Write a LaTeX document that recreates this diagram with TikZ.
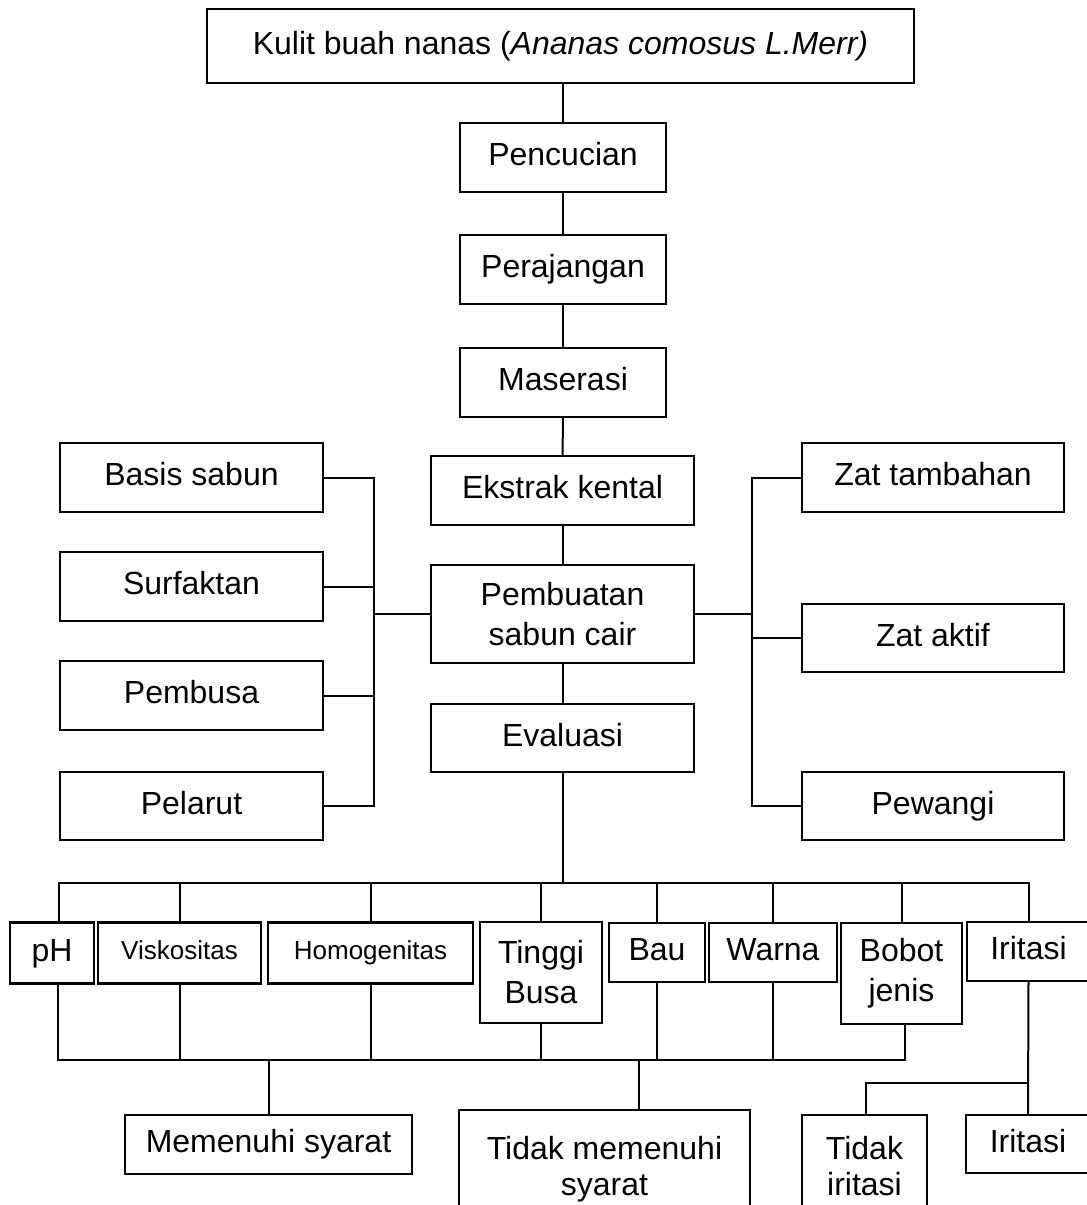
\documentclass[tikz,border=0pt]{standalone}
\usepackage{fontspec}
\setmainfont{Liberation Sans}
\begin{document}
\begin{tikzpicture}[x=1pt,y=-1pt,
  box/.style={draw,line width=2.3pt,inner sep=0pt,align=center,font=\fontsize{32}{40}\selectfont},
  one/.style={text height=23pt,text depth=7pt},
  small/.style={font=\fontsize{26}{32}\selectfont,text height=19pt,text depth=5.5pt},
  conn/.style={line width=2pt}]
\useasboundingbox (0,0) rectangle (1087,1205);
\fill[white] (0,0) rectangle (1087,1205);

% main column
\node[box,one,minimum width=707pt,minimum height=74pt] (top) at (560.5,46) {Kulit buah nanas (\textit{Ananas comosus L.Merr)}};
\node[box,one,minimum width=206pt,minimum height=69pt] (penc) at (563,157.5) {Pencucian};
\node[box,one,minimum width=206pt,minimum height=69pt] (peraj) at (563,269.5) {Perajangan};
\node[box,one,minimum width=206pt,minimum height=69pt] (mas) at (563,382.5) {Maserasi};
\node[box,one,minimum width=263pt,minimum height=69pt] (ekstrak) at (562.5,490.5) {Ekstrak kental};
\node[box,minimum width=263pt,minimum height=98pt] (pemb) at (562.5,614) {Pembuatan\\sabun cair};
\node[box,one,minimum width=263pt,minimum height=68pt] (eval) at (562.5,738) {Evaluasi};

% left ingredients
\node[box,one,minimum width=263pt,minimum height=69pt] (basis) at (191.5,477.5) {Basis sabun};
\node[box,one,minimum width=263pt,minimum height=69pt] (surf) at (191.5,586.5) {Surfaktan};
\node[box,one,minimum width=263pt,minimum height=69pt] (busa) at (191.5,695.5) {Pembusa};
\node[box,one,minimum width=263pt,minimum height=68pt] (larut) at (191.5,806) {Pelarut};

% right ingredients
\node[box,one,minimum width=262pt,minimum height=69pt] (tamb) at (933,477.5) {Zat tambahan};
\node[box,one,minimum width=262pt,minimum height=68pt] (aktif) at (933,638) {Zat aktif};
\node[box,one,minimum width=262pt,minimum height=68pt] (wangi) at (933,806) {Pewangi};

% evaluation tests
\node[box,one,minimum width=84pt,minimum height=61pt] (ph) at (52,953) {pH};
\node[box,small,minimum width=163pt,minimum height=61pt] (visk) at (179.5,953) {Viskositas};
\node[box,small,minimum width=205pt,minimum height=61pt] (homog) at (370.5,953) {Homogenitas};
\node[box,minimum width=122pt,minimum height=101pt] (tinggi) at (541,972.5) {Tinggi\\Busa};
\node[box,one,minimum width=96pt,minimum height=59pt] (bau) at (657,952.5) {Bau};
\node[box,one,minimum width=128pt,minimum height=59pt] (warna) at (773,952.5) {Warna};
\node[box,minimum width=121pt,minimum height=101pt] (bobot) at (901.5,973.5) {Bobot\\jenis};
\node[box,one,minimum width=123pt,minimum height=59pt] (irit) at (1028.5,951.5) {Iritasi};

% results
\node[box,one,minimum width=287pt,minimum height=59pt] (mem) at (268.5,1144.5) {Memenuhi syarat};
\node[box,minimum width=291pt,minimum height=118pt] (tmem) at (604.5,1169) {Tidak memenuhi\\[-4pt]syarat};
\node[box,minimum width=125pt,minimum height=102pt] (tirit) at (864.5,1166) {Tidak\\[-4pt]iritasi};
\node[box,one,minimum width=124pt,minimum height=58pt] (irit2) at (1028,1144) {Iritasi};

% junction coordinates
\coordinate (lv) at (374,0);
\coordinate (rv) at (752,0);
\coordinate (bus1) at (0,883);
\coordinate (bus2) at (0,1060);
\coordinate (ibr) at (0,1083);

% main column connectors
\draw[conn] (top.south -| penc) -- (penc.north);
\draw[conn] (penc) -- (peraj);
\draw[conn] (peraj) -- (mas);
\draw[conn] (mas) -- (ekstrak);
\draw[conn] (ekstrak) -- (pemb);
\draw[conn] (pemb) -- (eval);

% left
\draw[conn] (basis.east) -- (basis.east -| lv) -- (larut.east -| lv) -- (larut.east);
\draw[conn] (surf.east) -- (surf.east -| lv);
\draw[conn] (busa.east) -- (busa.east -| lv);
\draw[conn] (pemb.west) -- (pemb.west -| lv);

% right
\draw[conn] (tamb.west) -- (tamb.west -| rv) -- (wangi.west -| rv) -- (wangi.west);
\draw[conn] (aktif.west) -- (aktif.west -| rv);
\draw[conn] (pemb.east) -- (pemb.east -| rv);

% evaluation bus
\draw[conn] (eval.south) -- (eval.south |- bus1);
\draw[conn] ([xshift=7pt]ph.north) -- ([xshift=7pt]ph.north |- bus1) -- (irit.north |- bus1) -- (irit.north);
\foreach \n in {visk,homog,tinggi,bau,warna,bobot}
  \draw[conn] (\n.north) -- (\n.north |- bus1);

% result bus
\draw[conn] ([xshift=6pt]ph.south) -- ([xshift=6pt]ph.south |- bus2) -- ([xshift=3pt]bobot.south |- bus2) -- ([xshift=3pt]bobot.south);
\foreach \n in {visk,homog,tinggi,bau,warna}
  \draw[conn] (\n.south) -- (\n.south |- bus2);
\draw[conn] (mem.north) -- (mem.north |- bus2);
\draw[conn] ([xshift=34.5pt]tmem.north) -- ([xshift=34.5pt]tmem.north |- bus2);

% iritasi branch
\draw[conn] (irit.south) -- (irit2.north);
\draw[conn] (irit.south |- ibr) -- ([xshift=1.5pt]tirit.north |- ibr) -- ([xshift=1.5pt]tirit.north);
\end{tikzpicture}
\end{document}
